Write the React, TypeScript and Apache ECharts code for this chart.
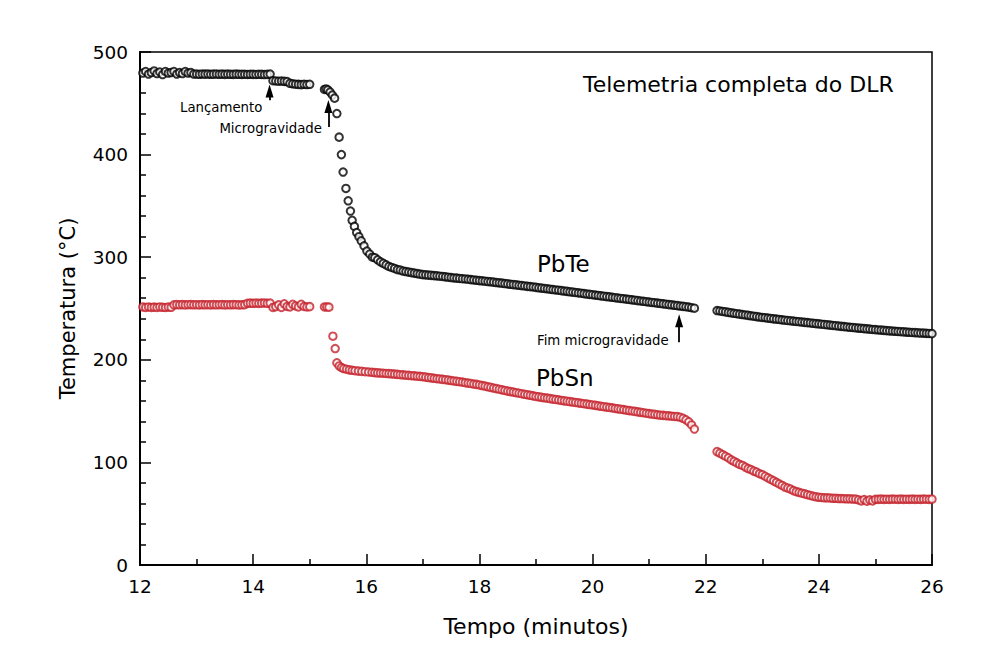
import React, { useEffect, useRef } from "react";
import * as echarts from "echarts";

const FONT = '"DejaVu Sans", "Liberation Sans", sans-serif';
const RED = "#c4202a";

// ---- PbTe (black) ----
const pbteA_t0 = 12.05, pbteA_dt = 0.05;
const pbteA = [479.5, 481, 478.5, 480, 481.5, 479, 480.5, 478, 481, 479.5, 480, 481, 478.5, 480, 479, 481, 479.5, 480,
  478.5, 478.5, 478.3, 478.5, 478.4, 478.5, 478.3, 478.4, 478.5, 478.3, 478.4, 478.2, 478.4, 478.3, 478.2, 478.4, 478.3, 478.2, 478.3, 478.1, 478.3, 478.2, 478.1, 478.3, 478.2, 478, 478.2, 478.5];
const pbteB_t0 = 14.35, pbteB_dt = 0.05;
const pbteB = [472, 471.8, 471.5, 471.7, 471.4, 471.2, 469.5, 469, 468.6, 468.4, 468.2, 468.5, 468.3, 468.5];
const pbteDropT = [15.26, 15.29, 15.32, 15.36, 15.4, 15.44, 15.48, 15.52, 15.56, 15.59, 15.64, 15.68, 15.72, 15.75, 15.79, 15.83, 15.87, 15.91, 15.96, 16.01, 16.06, 16.11];
const pbteDropV = [463.5, 464, 463, 461, 458, 455, 440, 417, 400, 383, 367, 355, 345, 336, 330, 324, 320, 316, 311, 306, 303, 300];
const pbteC_t0 = 16.15, pbteC_dt = 0.05;
const pbteC = [299.5, 297.5, 295.5, 294, 292.5, 291, 290, 289,
  288, 287.5, 286.5, 286, 285.5, 285, 284.5, 284, 283.5, 283,
  282.8, 282.5, 282.3, 282, 281.8, 281.5, 281.2, 280.8, 280.5, 280.2,
  279.8, 279.6, 279.3, 279, 278.8, 278.5, 278.1, 277.8, 277.5, 277.2,
  276.9, 276.6, 276.3, 276, 275.7, 275.3, 275, 274.7, 274.3, 274,
  273.6, 273.3, 273, 272.6, 272.3, 272, 271.6, 271.3, 271, 270.6,
  270.2, 269.9, 269.5, 269.2, 268.8, 268.5, 268.1, 267.8, 267.4, 267,
  266.7, 266.3, 266, 265.6, 265.2, 264.9, 264.5, 264.1, 263.8, 263.4,
  263, 262.7, 262.3, 262, 261.6, 261.3, 260.9, 260.5, 260.2, 259.8,
  259.5, 259.1, 258.8, 258.4, 258.1, 257.7, 257.3, 257, 256.6, 256.3,
  255.9, 255.6, 255.2, 254.9, 254.5, 254.2, 253.8, 253.5, 253.1, 252.8,
  252.4, 252.1, 251.7, 251.3, 250.8, 250.3];
const pbteD_t0 = 22.2, pbteD_dt = 0.05;
const pbteD = [248, 247.6, 247.1, 246.7, 246.2, 245.8, 245.3,
  244.9, 244.5, 244.1, 243.7, 243.3, 242.9, 242.5, 242.1, 241.7, 241.3,
  241, 240.6, 240.3, 239.9, 239.6, 239.3, 238.9, 238.6, 238.3, 238,
  237.7, 237.4, 237.1, 236.8, 236.5, 236.2, 235.9, 235.6, 235.3, 235,
  234.7, 234.4, 234.1, 233.8, 233.5, 233.2, 232.9, 232.6, 232.3, 232,
  231.7, 231.5, 231.2, 230.9, 230.7, 230.4, 230.1, 229.9, 229.6, 229.4,
  229.1, 228.9, 228.7, 228.4, 228.2, 228, 227.8, 227.6, 227.4, 227.2,
  227, 226.8, 226.6, 226.5, 226.3, 226.1, 226, 225.8, 225.7, 225.5];

// ---- PbSn (red) ----
const pbsnA_t0 = 12.05, pbsnA_dt = 0.05;
const pbsnA = [251.5, 251, 251.5, 251, 251.3, 251, 251.5, 251.2, 251, 251.4, 251.2,
  253.5, 253.8, 253.6, 253.8, 253.5, 253.7, 253.8, 253.6, 253.7, 253.5, 253.8, 253.6, 253.7, 253.5, 253.8, 253.6, 253.7, 253.8, 253.5, 253.7, 253.6, 253.8, 253.7, 253.5, 253.6, 253.8,
  255, 255.2, 255.1, 255.3, 255, 255.2, 255.4, 255.1, 255.3];
const pbsnB_t0 = 14.35, pbsnB_dt = 0.05;
const pbsnB = [251, 251.8, 253.5, 251, 254.5, 252, 251.5, 254, 252.5, 251.5, 254, 252, 251.5, 251.8];
const pbsnDropT = [15.26, 15.3, 15.34, 15.41, 15.45, 15.48, 15.52, 15.56, 15.6, 15.65, 15.7, 15.75, 15.8, 15.86, 15.92, 15.98, 16.04, 16.1];
const pbsnDropV = [251.5, 251.5, 251.3, 223, 211, 197, 194, 192.5, 191.5, 190.8, 190.2, 189.8, 189.4, 189, 188.7, 188.4, 188.1, 187.8];
const pbsnC_t0 = 16.15, pbsnC_dt = 0.05;
const pbsnC = [187.5, 187.3, 187.1, 186.9, 186.7, 186.5, 186.3, 186,
  185.8, 185.5, 185.3, 185, 184.8, 184.5, 184.3, 184, 183.8, 183.5,
  183.1, 182.7, 182.4, 182, 181.6, 181.3, 180.9, 180.6, 180.2, 179.8,
  179.4, 179, 178.6, 178.2, 177.7, 177.3, 176.9, 176.4, 176, 175.5,
  174.9, 174.3, 173.7, 173.1, 172.5, 171.9, 171.3, 170.7, 170.1, 169.5,
  169, 168.5, 167.9, 167.4, 166.9, 166.4, 165.9, 165.4, 164.8, 164.3,
  163.9, 163.4, 163, 162.6, 162.2, 161.7, 161.3, 160.9, 160.4, 160,
  159.6, 159.2, 158.8, 158.4, 158, 157.6, 157.2, 156.8, 156.4, 156,
  155.6, 155.2, 154.7, 154.3, 153.9, 153.5, 153.1, 152.6, 152.2, 151.8,
  151.4, 150.9, 150.5, 150.1, 149.7, 149.2, 148.8, 148.4, 147.9, 147.5,
  147.1, 146.8, 146.4, 146, 145.8, 145.5, 145.3, 145, 144.8, 144.6,
  144, 143, 141.5, 139.5, 136.5, 132.5];
const pbsnD_t0 = 22.2, pbsnD_dt = 0.05;
const pbsnD = [110.5, 109, 107.5, 106, 104.5, 102.5, 101,
  99.5, 98, 97, 95.5, 94, 93, 91.5, 90.5, 89, 88,
  86.5, 85, 83.5, 82, 80.5, 79, 77.5, 76, 75, 74,
  72.5, 71.5, 70.8, 70, 69.3, 68.5, 67.8, 67, 66.5, 66,
  65.8, 65.5, 65.5, 65.3, 65, 65, 64.8, 64.8, 64.6, 64.5,
  64.5, 64.3, 64.2, 63.5, 62.5, 63.8, 62.2, 63.5, 62.5, 64,
  64, 64.2, 64, 64.1, 64, 64.2, 64.1, 64, 64.2, 64,
  64.1, 64, 64.2, 64, 64.1, 64, 64.2, 64.1, 64, 64.2];

// ---- annotation arrows: [time, tail temperature, head-centre temperature] ----
const arrowLancamento = [14.29, 453, 462];
const arrowMicro = [15.33, 427, 447];
const arrowFim = [21.53, 217, 238];

// axis ticks
const xMin = 12, xMax = 26, xStep = 2;
const yMin = 0, yMax = 500, yStep = 100;

function seg(t0: number, dt: number, vals: number[]) {
  return vals.map((v, i) => [Math.round((t0 + i * dt) * 1000) / 1000, v]);
}
function pairs(ts: number[], vs: number[]) {
  return ts.map((t, i) => [t, vs[i]]);
}
function shaft(a: number[]) {
  return [{ coord: [a[0], a[1]] }, { coord: [a[0], a[2]] }];
}
function head(a: number[]) {
  return { coord: [a[0], a[2]] };
}

export default function App() {
  const ref = useRef<HTMLDivElement>(null);
  useEffect(() => {
    if (!ref.current) return;
    const chart = echarts.init(ref.current, null, { renderer: "svg" });
    const pbteData = [
      ...seg(pbteA_t0, pbteA_dt, pbteA),
      ...seg(pbteB_t0, pbteB_dt, pbteB),
      ...pairs(pbteDropT, pbteDropV),
      ...seg(pbteC_t0, pbteC_dt, pbteC),
      ...seg(pbteD_t0, pbteD_dt, pbteD),
    ];
    const pbsnData = [
      ...seg(pbsnA_t0, pbsnA_dt, pbsnA),
      ...seg(pbsnB_t0, pbsnB_dt, pbsnB),
      ...pairs(pbsnDropT, pbsnDropV),
      ...seg(pbsnC_t0, pbsnC_dt, pbsnC),
      ...seg(pbsnD_t0, pbsnD_dt, pbsnD),
    ];
    const axisCommon = {
      axisLine: { onZero: false, lineStyle: { color: "#000", width: 2 } },
      axisTick: { inside: true, length: 11, lineStyle: { color: "#000", width: 1.5 } },
      splitLine: { show: false },
      axisLabel: { color: "#000", fontSize: 18.5, fontFamily: FONT, margin: 12 },
    };
    const textStyle = (size: number) => ({ fill: "#000", fontFamily: FONT, fontSize: size });
    chart.setOption({
      animation: false,
      backgroundColor: "#fff",
      grid: { left: 140, top: 52, right: 58, bottom: 87, show: true, borderColor: "#000", borderWidth: 1.5 },
      xAxis: {
        type: "value", min: xMin, max: xMax, interval: xStep,
        ...axisCommon,
        minorTick: { show: true, splitNumber: 2, length: 6, lineStyle: { color: "#000", width: 1.5 } },
        name: "Tempo (minutos)", nameLocation: "middle", nameGap: 50,
        nameTextStyle: { color: "#000", fontFamily: FONT, fontSize: 22 },
      },
      yAxis: {
        type: "value", min: yMin, max: yMax, interval: yStep,
        ...axisCommon,
        minorTick: { show: true, splitNumber: 5, length: 6, lineStyle: { color: "#000", width: 1.5 } },
        name: "Temperatura (°C)", nameLocation: "middle", nameGap: 62,
        nameTextStyle: { color: "#000", fontFamily: FONT, fontSize: 21 },
      },
      series: [
        {
          name: "PbTe", type: "scatter", data: pbteData,
          symbol: "emptyCircle", symbolSize: 7.5,
          itemStyle: { color: "#000", borderWidth: 1 },
          silent: true,
          markLine: {
            silent: true, animation: false,
            symbol: ["none", "none"],
            label: { show: false },
            lineStyle: { color: "#000", width: 1.8, type: "solid" },
            emphasis: { disabled: true },
            data: [shaft(arrowLancamento), shaft(arrowMicro), shaft(arrowFim)],
          },
          markPoint: {
            silent: true, animation: false,
            symbol: "triangle", symbolSize: [8, 13],
            label: { show: false },
            itemStyle: { color: "#000", borderWidth: 0 },
            emphasis: { disabled: true },
            data: [head(arrowLancamento), head(arrowMicro), head(arrowFim)],
          },
        },
        {
          name: "PbSn", type: "scatter", data: pbsnData,
          symbol: "emptyCircle", symbolSize: 7.5,
          itemStyle: { color: RED, borderWidth: 1 },
          silent: true,
        },
      ],
      graphic: [
        { type: "text", x: 583, y: 84, silent: true, style: { ...textStyle(22), text: "Telemetria completa do DLR", align: "left", verticalAlign: "middle" } },
        { type: "text", x: 537, y: 264, silent: true, style: { ...textStyle(23), text: "PbTe", align: "left", verticalAlign: "middle" } },
        { type: "text", x: 536, y: 378, silent: true, style: { ...textStyle(23), text: "PbSn", align: "left", verticalAlign: "middle" } },
        { type: "text", x: 180, y: 107, silent: true, style: { ...textStyle(13.3), text: "Lançamento", align: "left", verticalAlign: "middle" } },
        { type: "text", x: 322, y: 128, silent: true, style: { ...textStyle(13.3), text: "Microgravidade", align: "right", verticalAlign: "middle" } },
        { type: "text", x: 537, y: 340, silent: true, style: { ...textStyle(13.3), text: "Fim microgravidade", align: "left", verticalAlign: "middle" } },
      ],
    });
    return () => chart.dispose();
  }, []);
  return (
    <div
      ref={ref}
      style={{ position: "fixed", left: 0, top: 0, width: 990, height: 652, background: "#fff" }}
    />
  );
}
